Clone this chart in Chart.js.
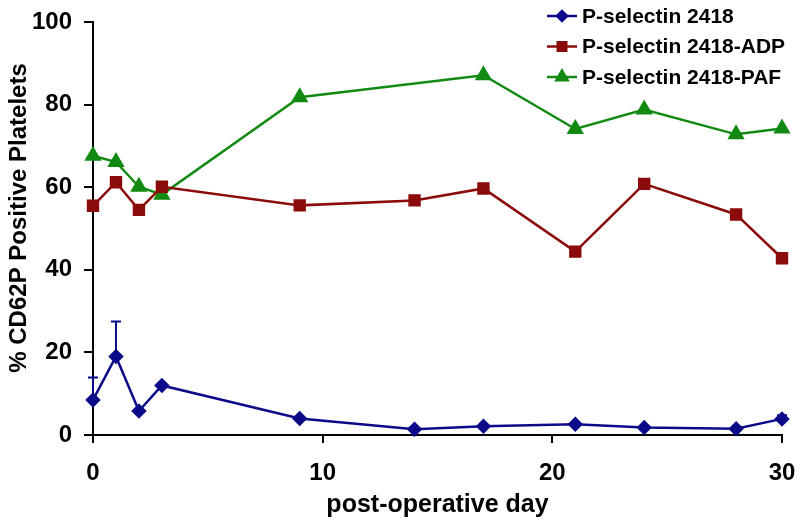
<!DOCTYPE html>
<html lang="en">
<head>
    <meta charset="UTF-8" />
    <script src="https://cdn.jsdelivr.net/npm/chart.js"></script>
    <title>CD62P</title>
    <style>
        body { margin: 0; background: #fff; }
        .wrap { width: 800px; height: 525px; }
    </style>
</head>
<body>
    <div class="wrap"><canvas id="LineChart" width="800" height="525"></canvas></div>

<script>
    const days = [0, 1, 2, 3, 9, 14, 17, 21, 24, 28, 30];
    const ps2418 = [8.5, 19, 5.8, 12, 4, 1.4, 2.1, 2.6, 1.8, 1.5, 3.9];
    const ps2418Err = [5.4, 8.5, 0, 0, 0, 0, 0, 0, 0, 0, 0.9];
    const psADP = [55.5, 61.2, 54.5, 60.1, 55.6, 56.8, 59.7, 44.4, 60.8, 53.4, 42.8];
    const psPAF = [67.6, 66.1, 60.1, 58.2, 81.8, null, 87.1, 74.1, 78.8, 72.8, 74.2];
    const seriesNames = ['P-selectin 2418', 'P-selectin 2418-ADP', 'P-selectin 2418-PAF'];
    const xTitle = 'post-operative day';
    const yTitle = '% CD62P Positive Platelets';
    const xTicks = [0, 10, 20, 30];
    const yTicks = [0, 20, 40, 60, 80, 100];

    const FONT = '"Liberation Sans", Arial, sans-serif';

    const toPoints = vals => days.map((d, i) => ({ x: d, y: vals[i] })).filter(p => p.y !== null);

    // error bars (upper only) for the first series
    const errorBars = {
        id: 'errorBars',
        afterDatasetsDraw(chart) {
            const c = chart.ctx;
            const xs = chart.scales.x, ys = chart.scales.y;
            c.save();
            c.strokeStyle = '#0b0b8a';
            c.lineWidth = 2;
            days.forEach((d, i) => {
                if (!ps2418Err[i]) return;
                const px = xs.getPixelForValue(d);
                const y0 = ys.getPixelForValue(ps2418[i]);
                const y1 = ys.getPixelForValue(ps2418[i] + ps2418Err[i]);
                c.beginPath();
                c.moveTo(px, y0); c.lineTo(px, y1);
                c.moveTo(px - 5, y1); c.lineTo(px + 5, y1);
                c.stroke();
            });
            c.restore();
        }
    };

    // axis titles and a legend drawn like the original
    const decorations = {
        id: 'decorations',
        afterDraw(chart) {
            const c = chart.ctx;
            const area = chart.chartArea;
            c.save();
            c.fillStyle = '#000';
            c.textAlign = 'center';
            c.textBaseline = 'middle';
            c.font = 'bold 25px ' + FONT;
            c.fillText(xTitle, (area.left + area.right) / 2, 505);

            c.save();
            c.translate(19, 218);
            c.rotate(-Math.PI / 2);
            c.font = 'bold 24px ' + FONT;
            c.fillText(yTitle, 0, 0);
            c.restore();

            c.textAlign = 'left';
            c.font = 'bold 21px ' + FONT;
            chart.data.datasets.forEach((ds, i) => {
                const y = 16 + i * 30.5;
                const x0 = 547, x1 = 577;
                c.strokeStyle = ds.borderColor;
                c.fillStyle = ds.borderColor;
                c.lineWidth = 2.5;
                c.beginPath(); c.moveTo(x0, y); c.lineTo(x1, y); c.stroke();
                Chart.helpers.drawPoint(c, {
                    pointStyle: ds.pointStyle, radius: ds.pointRadius - 1, borderWidth: 1
                }, (x0 + x1) / 2, y);
                c.fillStyle = '#000';
                c.fillText(seriesNames[i], 582, y + 1);
            });
            c.restore();
        }
    };

    const colors = ['#0b0b8a', '#8b0a0a', '#128a12'];
    const styles = ['rectRot', 'rect', 'triangle'];
    const radii = [6, 7, 7.5];

    const ctx = document.getElementById('LineChart').getContext('2d');

    const CHART1 = new Chart(ctx, {
        type: 'line',
        data: {
            datasets: [ps2418, psADP, psPAF].map((vals, i) => ({
                label: seriesNames[i],
                data: toPoints(vals),
                borderColor: colors[i],
                backgroundColor: colors[i],
                pointBackgroundColor: colors[i],
                pointBorderColor: colors[i],
                pointStyle: styles[i],
                pointRadius: radii[i],
                borderWidth: 2.5,
                tension: 0,
                clip: false
            }))
        },
        plugins: [errorBars, decorations],
        options: {
            responsive: false,
            animation: false,
            layout: { padding: { top: 22, right: 18, left: 0, bottom: 0 } },
            scales: {
                x: {
                    type: 'linear',
                    min: 0,
                    max: 30,
                    afterBuildTicks: axis => { axis.ticks = xTicks.map(v => ({ value: v })); },
                    afterFit: axis => {
                        axis.height = 90;
                        axis.paddingLeft = 0;
                        axis.paddingRight = 0;
                    },
                    grid: { drawOnChartArea: false, drawTicks: true, tickLength: 8, color: '#000', lineWidth: 2 },
                    border: { color: '#000', width: 2 },
                    ticks: {
                        color: '#000',
                        padding: 16,
                        maxRotation: 0,
                        font: { family: FONT, size: 24, weight: 'bold' }
                    }
                },
                y: {
                    min: 0,
                    max: 100,
                    afterBuildTicks: axis => { axis.ticks = yTicks.map(v => ({ value: v })); },
                    afterFit: axis => {
                        axis.width = 93;
                        axis.paddingTop = 0;
                        axis.paddingBottom = 0;
                    },
                    grid: { drawOnChartArea: false, drawTicks: true, tickLength: 9, color: '#000', lineWidth: 2 },
                    border: { color: '#000', width: 2 },
                    ticks: {
                        color: '#000',
                        padding: 12,
                        font: { family: FONT, size: 24, weight: 'bold' }
                    }
                }
            },
            plugins: {
                legend: { display: false },
                tooltip: { enabled: false }
            }
        }
    });
</script>
</body>
</html>
